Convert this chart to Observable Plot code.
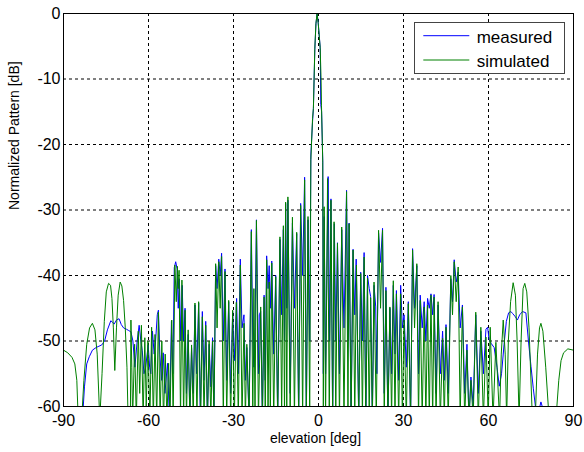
<!DOCTYPE html>
<html>
<head>
<meta charset="utf-8">
<script src="https://cdn.jsdelivr.net/npm/d3@7"></script>
<script src="https://cdn.jsdelivr.net/npm/@observablehq/plot@0.6"></script>
<style>
  html, body { margin: 0; padding: 0; background: #fff; }
  #wrap { position: relative; width: 584px; height: 452px; }
  #legend { position: absolute; left: 414px; top: 22px; width: 149px; height: 50px;
            border: 1px solid #444; background: #fff; }
  #legend text { font-family: "Liberation Sans", Arial, sans-serif; font-size: 17px; fill: #000; }
</style>
</head>
<body>
<div id="wrap"></div>
<script>
const xLabel = "elevation [deg]";
const yLabel = "Normalized Pattern [dB]";
const xTicks = [-90, -60, -30, 0, 30, 60, 90];
const yTicks = [-60, -50, -40, -30, -20, -10, 0];
const seriesNames = ["measured", "simulated"];
const seriesColors = ["#0000ff", "#008000"];

// simulated pattern: [elevation deg, dB]
const simulated = [
  [-90,-51.4],[-88.5,-51.8],[-87,-52.5],[-86,-53.5],[-85.3,-56],[-84.8,-62],[-83.6,-62],[-82.8,-56],[-81.8,-50.5],[-80.8,-48],
  [-79.8,-47.3],[-78.9,-48.3],[-78.1,-52],[-77.2,-62],[-76.4,-55],[-75.6,-47],[-74.9,-42.5],[-74.1,-41.2],[-73.4,-41.5],[-72.9,-43.5],
  [-72.4,-48],[-71.9,-54.5],[-71.3,-48],[-70.7,-43],[-70.0,-41.0],[-69.4,-41.6],[-68.8,-43.8],[-68.2,-48],[-67.6,-54],[-67.2,-62],
  [-66.4,-62],[-66.2,-46.8],[-65.9,-54],[-65.6,-62],[-64.9,-50.5],[-64.3,-62],[-63.6,-48.5],[-63.1,-58],[-62.5,-47.6],[-61.9,-62],
  [-61.3,-49.5],[-60.8,-60],[-60.2,-50],[-59.5,-62],[-58.9,-47.9],[-58.3,-62],[-57.7,-49],[-57.1,-62],[-56.5,-45.6],[-55.9,-62],
  [-55.3,-50],[-54.7,-62],[-54.1,-52],[-53.5,-62],[-52.9,-53.4],[-52.4,-62],[-51.8,-46.8],[-51.3,-62],[-50.7,-38.4],[-50.2,-44],
  [-49.8,-38.6],[-49.5,-42],[-49.2,-39.2],[-48.7,-62],[-48.2,-40.7],[-47.6,-62],[-47.1,-45.3],[-46.6,-62],[-46.0,-48.3],[-45.4,-62],
  [-44.8,-50.6],[-44.2,-62],[-43.6,-44.2],[-42.9,-62],[-42.3,-44.0],[-41.6,-62],[-41.0,-46.3],[-40.4,-62],[-39.8,-47.6],[-39.2,-62],
  [-38.6,-50],[-38.0,-62],[-37.4,-50],[-36.9,-62],[-36.3,-38.2],[-35.8,-48],[-35.2,-37.9],[-34.7,-45],[-34.2,-37.1],[-33.6,-62],
  [-33.0,-39.4],[-32.4,-62],[-31.7,-43.8],[-31.0,-62],[-30.3,-45.3],[-29.7,-62],[-29.0,-44.1],[-28.3,-62],[-27.6,-38.4],[-27.0,-62],
  [-26.3,-47.3],[-25.8,-62],[-25.3,-50.5],[-24.5,-62],[-23.7,-33.3],[-23.2,-62],[-22.8,-42],[-22.4,-62],[-21.9,-31.6],[-21.2,-62],
  [-20.4,-44.8],[-19.8,-62],[-19.2,-43.3],[-18.8,-62],[-18.3,-37.6],[-17.8,-62],[-17.4,-41],[-17.0,-62],[-16.5,-38.1],[-15.8,-62],
  [-15.1,-40.2],[-14.4,-62],[-13.6,-34.1],[-13.0,-62],[-12.4,-32.4],[-12.0,-62],[-11.6,-28.8],[-11.2,-62],[-10.8,-28.0],[-10.0,-62],
  [-9.2,-31.1],[-8.5,-62],[-7.7,-33.4],[-7.0,-62],[-6.3,-29.3],[-5.6,-62],[-4.9,-25.4],[-4.3,-62],[-3.7,-31.0],[-3.1,-62],
  [-2.7,-22.3],[-2.1,-16],[-1.8,-14.5],[-1.3,-5.3],[-0.9,-1.5],[-0.5,0],[-0.1,-1.5],[0.6,-5.3],[0.9,-10],[1.05,-14],
  [1.5,-22.7],[1.7,-62],[2.0,-29.5],[2.5,-62],[3.2,-25.2],[3.8,-62],[4.4,-28.5],[5.0,-62],[5.5,-31.8],[6.1,-62],
  [6.7,-35.1],[7.4,-62],[8.2,-32.6],[9.0,-62],[9.9,-27.2],[10.4,-62],[10.8,-32.1],[11.5,-62],[12.2,-36.1],[12.8,-62],
  [13.4,-38.4],[14.2,-62],[14.9,-39.7],[15.5,-62],[16.1,-37.2],[16.7,-62],[17.3,-40.4],[17.9,-62],[18.4,-43.4],[19.0,-62],
  [19.6,-41.0],[20.4,-62],[21.2,-33.1],[21.9,-45],[22.6,-33.1],[23.2,-62],[23.8,-42.3],[24.5,-62],[25.2,-44.8],[25.8,-62],
  [26.4,-40.8],[27.0,-62],[27.5,-42.8],[28.3,-62],[29.0,-42.8],[29.6,-62],[30.2,-46.8],[31.0,-62],[31.7,-44.3],[32.5,-62],
  [33.2,-36.1],[33.9,-48],[34.7,-38.2],[35.3,-62],[35.9,-43.8],[36.6,-62],[37.3,-44.8],[37.9,-62],[38.5,-44.5],[39.1,-62],
  [39.7,-43.0],[40.3,-62],[40.8,-43.3],[41.5,-62],[42.2,-44.0],[43.0,-62],[43.8,-49.6],[44.4,-62],[45.0,-47.9],[45.8,-62],
  [46.7,-40.0],[47.3,-46],[47.9,-37.9],[48.6,-44],[49.3,-38.7],[50.0,-62],[50.8,-44.8],[51.6,-62],[52.4,-51.4],[53.1,-62],
  [53.8,-56],[54.6,-62],[55.5,-45.6],[56.4,-62],[57.3,-47.9],[58.2,-62],[59.1,-49.4],[59.9,-62],[60.6,-47.9],[61.6,-62],
  [62.6,-50.2],[63.9,-62],[64.5,-52],[65.2,-46.8],[65.9,-52],[66.4,-62],[67.0,-50],[67.8,-44],[68.7,-41.1],[69.5,-43],
  [70.1,-50],[70.8,-62],[71.5,-50],[72.2,-42],[72.8,-41.2],[73.5,-42.5],[74.3,-48],[75.5,-62],[76.5,-62],[77.3,-52],
  [78.0,-48],[78.5,-47.3],[79.2,-48.5],[80.2,-54],[81.4,-62],[83.8,-62],[84.8,-56],[85.6,-53],[86.5,-51.8],[88,-51.2],
  [90,-51.4]
];

// measured pattern: [elevation deg, dB]
const measured = [
  [-83.3,-62],[-82.6,-57],[-81.8,-53.5],[-80.9,-52.4],[-79.8,-51.4],[-78.5,-51],[-77.5,-50.8],[-76.5,-50.6],[-75.5,-50],[-74.5,-48.3],
  [-73.3,-46.9],[-72.6,-47.2],[-72.1,-47.4],[-71.3,-46.8],[-70.4,-46.6],[-69.6,-47.5],[-68.8,-48],[-67.8,-48.2],[-67.0,-48.4],[-66.2,-48.6],
  [-65.5,-50],[-64.8,-54],[-64.0,-50],[-63.3,-47.6],[-62.7,-50],[-62.2,-51.5],[-61.6,-55],[-61.0,-54],[-60.1,-50.6],[-59.6,-54],
  [-59.2,-55],[-58.6,-48.5],[-58.0,-52],[-57.5,-50],[-56.9,-46],[-56.5,-45.3],[-56.0,-52],[-55.4,-56],[-54.8,-51.8],[-54.2,-58],
  [-53.3,-53.4],[-52.6,-62],[-51.9,-47],[-51.4,-55],[-50.9,-38.8],[-50.4,-37.9],[-49.9,-39],[-49.5,-45],[-49.1,-40.5],[-48.6,-50],
  [-48.1,-41.5],[-47.6,-50],[-47.1,-45],[-46.6,-58],[-46.0,-49],[-45.4,-62],[-44.8,-51],[-44.2,-58],[-43.6,-44.5],[-43.0,-55],
  [-42.3,-44.2],[-41.7,-62],[-41.0,-45.5],[-40.4,-56],[-39.8,-47.0],[-39.2,-62],[-38.6,-50.5],[-38.0,-57],[-37.4,-49.5],[-36.9,-62],
  [-36.3,-38.5],[-35.8,-42],[-35.2,-37.5],[-34.7,-40],[-34.2,-36.6],[-33.6,-50],[-33.0,-39.0],[-32.4,-56],[-31.7,-44.0],[-31.0,-58],
  [-30.3,-45.5],[-29.7,-53],[-28.9,-43.5],[-28.3,-55],[-27.6,-37.5],[-27.0,-48],[-26.3,-46],[-25.8,-56],[-25.3,-51],[-24.5,-62],
  [-23.7,-33],[-23.2,-50],[-22.8,-54],[-22.4,-48],[-21.9,-31.5],[-21.2,-55],[-20.9,-46],[-20.4,-45.5],[-19.8,-62],[-19.2,-43.0],
  [-18.8,-56],[-18.3,-37.0],[-17.8,-42],[-17.4,-38.5],[-17.0,-45],[-16.5,-37.8],[-15.8,-52],[-15.1,-40.0],[-14.4,-62],[-13.6,-34.5],
  [-13.0,-46],[-12.4,-33.0],[-12.0,-50],[-11.6,-29.0],[-11.2,-45],[-10.8,-28.5],[-10.0,-58],[-9.2,-32],[-8.5,-45],[-7.7,-33.6],
  [-7.0,-62],[-6.3,-29.0],[-5.6,-40],[-4.9,-25.0],[-4.3,-62],[-3.7,-31.5],[-3.1,-50],[-2.7,-21.6],[-2.1,-16.5],[-1.8,-14.5],
  [-1.3,-5.5],[-0.9,-1.6],[-0.5,0],[-0.1,-1.4],[0.6,-5.2],[0.8,-13.9],[1.1,-15],[1.5,-22.5],[1.7,-55],[2.0,-31],
  [2.5,-55],[3.4,-24.9],[3.9,-50],[4.4,-28.3],[5.0,-62],[5.6,-32.1],[6.1,-50],[6.7,-35],[7.4,-55],[8.2,-33],
  [9.0,-48],[9.9,-27.0],[10.4,-50],[10.8,-32.0],[11.5,-62],[12.2,-36],[12.8,-46],[13.3,-37.5],[14.2,-62],[14.9,-39.5],
  [15.5,-50],[16.1,-36.5],[16.7,-62],[17.3,-40],[17.9,-42],[18.4,-43.2],[19.0,-62],[19.6,-41.5],[20.2,-44.8],[20.6,-55],
  [21.2,-33.5],[21.9,-38],[22.6,-32.8],[23.2,-58],[23.8,-41.8],[24.5,-62],[25.2,-45],[25.8,-55],[26.4,-41.5],[27.0,-52],
  [27.5,-42.3],[28.3,-56],[29.0,-41.5],[29.6,-48],[30.2,-46],[31.0,-54],[31.7,-44],[32.5,-62],[33.2,-35.9],[33.9,-45],
  [34.7,-38.5],[35.3,-55],[35.9,-43],[36.6,-48],[37.3,-44],[37.9,-50],[38.5,-43.5],[39.1,-45],[39.7,-42.8],[40.3,-46],
  [40.8,-42.9],[41.5,-58],[42.2,-44.5],[43.0,-55],[43.8,-48.5],[44.4,-56],[45.0,-47.5],[45.8,-58],[46.7,-40.5],[47.3,-44],
  [47.9,-37.6],[48.6,-41],[49.3,-39.5],[50.0,-48],[50.8,-44.5],[51.6,-58],[52.4,-50.5],[53.1,-62],[53.8,-55.5],[54.6,-60],
  [55.5,-46],[56.4,-58],[57.3,-48.5],[58.2,-55],[59.1,-48.2],[59.7,-47.9],[60.2,-49.8],[61.0,-50.4],[62.0,-51],[63.0,-54],
  [63.8,-56.9],[64.6,-55],[65.5,-50.5],[66.3,-47],[67.1,-45.7],[67.9,-45.5],[68.5,-45.8],[69.3,-46.2],[70.2,-46.8],[71.0,-46],
  [72.0,-45.5],[73.2,-45.7],[74.1,-50],[75.0,-53.9],[75.8,-57.2],[76.7,-60.5],[77.6,-61],[78.5,-59.3],[79.3,-60.5],[79.7,-62]
];

const fmt = d => String(d);

const chart = Plot.plot({
  width: 584,
  height: 452,
  marginLeft: 63,
  marginRight: 11,
  marginTop: 13,
  marginBottom: 46,
  style: { fontFamily: "'Liberation Sans', Arial, sans-serif", fontSize: "16px", color: "#000", background: "#fff" },
  x: { domain: [-90, 90], ticks: xTicks, tickFormat: fmt, tickSize: 0, tickPadding: 8, label: null },
  y: { domain: [-60, 0], ticks: yTicks, tickFormat: fmt, tickSize: 0, tickPadding: 3, label: null },
  marks: [
    Plot.ruleX(xTicks.slice(1, -1), { stroke: "#000", strokeWidth: 1, strokeDasharray: "3,3" }),
    Plot.ruleY(yTicks.slice(1, -1), { stroke: "#000", strokeWidth: 1, strokeDasharray: "3,3" }),
    Plot.line(measured, { x: d => d[0], y: d => d[1], stroke: seriesColors[0], strokeWidth: 1, clip: true }),
    Plot.line(simulated, { x: d => d[0], y: d => d[1], stroke: seriesColors[1], strokeWidth: 1, clip: true }),
    Plot.frame({ stroke: "#000", strokeWidth: 1 }),
    Plot.text([yLabel], { text: d => d, frameAnchor: "left", rotate: -90, dx: -49, fontSize: 14 }),
    Plot.text([xLabel], { text: d => d, frameAnchor: "bottom", dx: -3, dy: 36, fontSize: 14 })
  ]
});

const wrap = document.getElementById("wrap");
wrap.appendChild(chart);

// legend box inside the plot area
const legend = document.createElement("div");
legend.id = "legend";
const ns = "http://www.w3.org/2000/svg";
const lsvg = document.createElementNS(ns, "svg");
lsvg.setAttribute("width", "149");
lsvg.setAttribute("height", "50");
seriesNames.forEach((name, i) => {
  const ly = 12.7 + i * 24.3;
  const line = document.createElementNS(ns, "line");
  line.setAttribute("x1", "8.3");
  line.setAttribute("x2", "54.3");
  line.setAttribute("y1", ly);
  line.setAttribute("y2", ly);
  line.setAttribute("stroke", seriesColors[i]);
  line.setAttribute("stroke-width", "1");
  lsvg.appendChild(line);
  const t = document.createElementNS(ns, "text");
  t.setAttribute("x", "61.7");
  t.setAttribute("y", ly + 7.3);
  t.textContent = name;
  lsvg.appendChild(t);
});
legend.appendChild(lsvg);
wrap.appendChild(legend);
</script>
</body>
</html>
